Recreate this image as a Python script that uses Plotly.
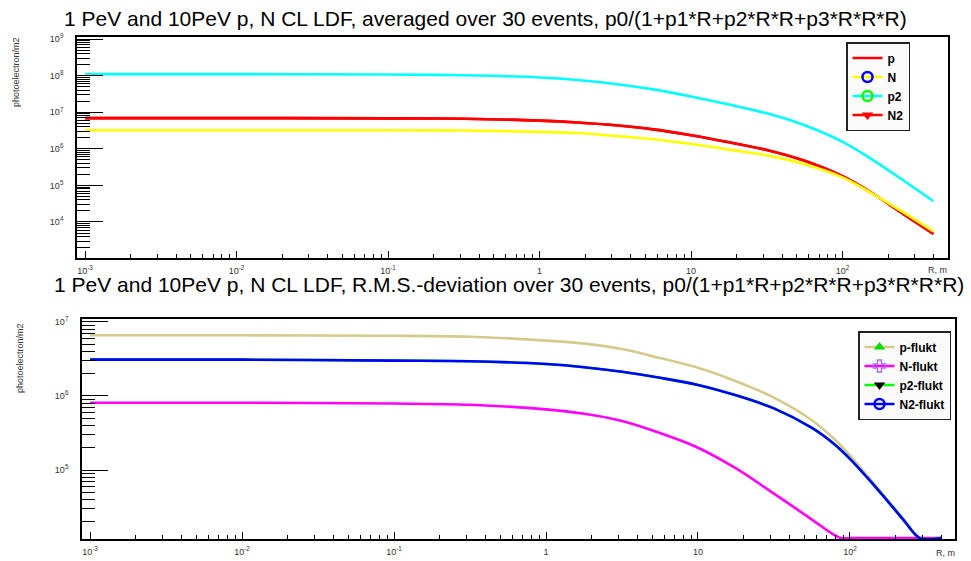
import numpy as np
import plotly.graph_objects as go

# ---------------- data ----------------
# Upper panel: mean lateral distribution, photoelectron/m2 vs R (m)
R_MEAN = [0.001, 0.01, 0.1, 0.316, 1, 1.78, 3.16, 5.62, 10, 17.8, 31.6, 56.2, 100, 158, 251, 398]
P_MEAN = [6.9e6, 6.9e6, 6.8e6, 6.6e6, 5.9e6, 5.25e6, 4.4e6, 3.4e6, 2.35e6, 1.51e6,
          9.3e5, 4.7e5, 1.78e5, 6.0e4, 1.66e4, 4.7e3]
N_MEAN = [3.2e6, 3.2e6, 3.2e6, 3.15e6, 2.9e6, 2.7e6, 2.25e6, 1.82e6, 1.35e6, 9.5e5,
          6.6e5, 3.8e5, 1.66e5, 5.9e4, 1.86e4, 5.5e3]
P2_MEAN = [1.10e8, 1.10e8, 1.07e8, 1.02e8, 8.9e7, 7.6e7, 5.9e7, 4.2e7, 2.7e7, 1.62e7,
           9.3e6, 4.4e6, 1.55e6, 5.0e5, 1.38e5, 3.7e4]
N2_MEAN = [6.9e6, 6.9e6, 6.8e6, 6.6e6, 5.9e6, 5.25e6, 4.4e6, 3.4e6, 2.35e6, 1.51e6,
           9.3e5, 4.7e5, 1.78e5, 6.0e4, 1.66e4, 4.7e3]

# Lower panel: r.m.s. deviation; non-positive fit values are drawn on the frame floor
R_RMS = [0.001, 0.01, 0.1, 0.316, 1, 1.78, 3.16, 5.62, 10, 17.8, 31.6, 56.2, 77.6, 87.1,
         100, 158, 224, 288, 398]
P_RMS = [6.6e6, 6.6e6, 6.5e6, 6.3e6, 5.6e6, 5.1e6, 4.3e6, 3.25e6, 2.4e6, 1.58e6,
         9.5e5, 4.7e5, 2.7e5, 2.14e5, 1.58e5, 5.2e4, 2.2e4, 1.2e4, 0]
N_RMS = [8.1e5, 8.1e5, 7.9e5, 7.6e5, 6.6e5, 5.75e5, 4.6e5, 3.16e5, 2.0e5, 1.05e5,
         4.8e4, 2.14e4, 1.35e4, 0, 0, 0, 0, 0, 0]
P2_RMS = [3.1e6, 3.1e6, 3.0e6, 2.95e6, 2.7e6, 2.45e6, 2.12e6, 1.76e6, 1.41e6, 1.02e6,
          6.8e5, 3.7e5, 2.3e5, 1.86e5, 1.41e5, 5.0e4, 2.14e4, 1.2e4, 0]
N2_RMS = [3.1e6, 3.1e6, 3.0e6, 2.95e6, 2.7e6, 2.45e6, 2.12e6, 1.76e6, 1.41e6, 1.02e6,
          6.8e5, 3.7e5, 2.3e5, 1.86e5, 1.41e5, 5.0e4, 2.14e4, 1.2e4, 0]

X_TICKS = [1e-3, 1e-2, 1e-1, 1, 10, 100]
X_TICK_TEXT = ["10<sup>-3</sup>", "10<sup>-2</sup>", "10<sup>-1</sup>", "1", "10", "10<sup>2</sup>"]
Y1_TICKS = [1e4, 1e5, 1e6, 1e7, 1e8, 1e9]
Y1_TICK_TEXT = ["10<sup>4</sup>", "10<sup>5</sup>", "10<sup>6</sup>", "10<sup>7</sup>", "10<sup>8</sup>", "10<sup>9</sup>"]
Y2_TICKS = [1e5, 1e6, 1e7]
Y2_TICK_TEXT = ["10<sup>5</sup>", "10<sup>6</sup>", "10<sup>7</sup>"]

TITLE_TOP = "1 PeV and 10PeV p, N CL LDF, averaged over 30 events, p0/(1+p1*R+p2*R*R+p3*R*R*R)"
TITLE_BOT = "1 PeV and 10PeV p, N CL LDF, R.M.S.-deviation over 30 events, p0/(1+p1*R+p2*R*R+p3*R*R*R)"

# ---------------- layout geometry ----------------
W, H = 971, 561
X1_RANGE = [-3.053, 2.696]
Y1_RANGE = [3.016, 9.055]
X2_RANGE = [-3.053, 2.691]
Y2_RANGE = [4.068, 7.04]

FONT = "Liberation Sans, Arial, Helvetica, sans-serif"


def minor_vals(lo, hi):
    vals = []
    for e in range(lo, hi + 1):
        for d in range(2, 10):
            vals.append(d * 10.0 ** e)
    return vals


fig = go.Figure()

# floor used to draw non-positive values along the bottom of the lower frame
floor2 = 10 ** (Y2_RANGE[0] + 0.012)

line_kw = dict(shape="spline", smoothing=1.0, width=2.6)

# upper panel curves (drawing order keeps yellow over red at the tail)
for r, v, c in [(R_MEAN, P_MEAN, "#ff0000"), (R_MEAN, N2_MEAN, "#ff0000"),
                (R_MEAN, N_MEAN, "#ffff00"), (R_MEAN, P2_MEAN, "#00ffff")]:
    fig.add_trace(go.Scatter(x=r, y=v, mode="lines", line=dict(color=c, **line_kw),
                             showlegend=False, hoverinfo="skip", xaxis="x", yaxis="y"))

# lower panel curves
for v, c in [(P_RMS, "#d4ca8c"), (N_RMS, "#ff00ff"), (P2_RMS, "#00ff00"), (N2_RMS, "#0000ff")]:
    yv = np.maximum(np.asarray(v, dtype=float), floor2)
    fig.add_trace(go.Scatter(x=R_RMS, y=yv, mode="lines",
                             line=dict(color=c, shape="spline", smoothing=0.9, width=2.6),
                             showlegend=False, hoverinfo="skip", xaxis="x2", yaxis="y2"))

# legend entries
leg_top = [
    ("p", "lines", "#ff0000", dict(size=1, color="#ff0000", opacity=0)),
    ("N", "lines+markers", "#ffff00", dict(symbol="circle-open", size=10, color="#0000ff", line=dict(width=2.5))),
    ("p2", "lines+markers", "#00ffff", dict(symbol="circle-open", size=10, color="#00ff00", line=dict(width=2.5))),
    ("N2", "lines+markers", "#ff0000", dict(symbol="triangle-down", size=10, color="#ff0000")),
]
for name, mode, lc, mk in leg_top:
    fig.add_trace(go.Scatter(x=[None], y=[None], mode=mode, name=name,
                             line=dict(color=lc, width=2.5), marker=mk,
                             xaxis="x", yaxis="y", legend="legend"))

leg_bot = [
    ("p-flukt", "#d4ca8c", dict(symbol="triangle-up", size=10, color="#00dd00")),
    ("N-flukt", "#ff00ff", dict(symbol="cross-open", size=10, color="#a070ff", line=dict(width=1.5))),
    ("p2-flukt", "#00ff00", dict(symbol="triangle-down", size=10, color="#000000")),
    ("N2-flukt", "#0000ff", dict(symbol="circle-open", size=10, color="#0000ff", line=dict(width=2.5))),
]
for name, lc, mk in leg_bot:
    fig.add_trace(go.Scatter(x=[None], y=[None], mode="lines+markers", name=name,
                             line=dict(color=lc, width=2.5), marker=mk,
                             xaxis="x2", yaxis="y2", legend="legend2"))

tickfont = dict(family=FONT, size=9, color="#333333")
common_x = dict(type="log", tickmode="array", tickvals=X_TICKS, ticktext=X_TICK_TEXT,
                ticks="inside", ticklen=7, tickwidth=1.2, tickcolor="black",
                minor=dict(tickmode="array", tickvals=minor_vals(-3, 2), ticks="inside",
                           ticklen=4, tickwidth=1, tickcolor="black"),
                showgrid=False, zeroline=False, showline=True, linecolor="black",
                linewidth=1.6, mirror=True, tickfont=tickfont, ticklabelstandoff=3,
                automargin=False)
common_y = dict(type="log", tickmode="array", ticks="inside", ticklen=26, tickwidth=1.2,
                tickcolor="black", showgrid=False, zeroline=False, showline=True,
                linecolor="black", linewidth=1.6, mirror=True, tickfont=tickfont,
                ticklabelstandoff=10, automargin=False)

legend_style = dict(xanchor="left", yanchor="top", bgcolor="#fafafa",
                    bordercolor="#222222", borderwidth=1.5,
                    font=dict(family=FONT, size=12, color="black", weight="bold"),
                    itemwidth=30, tracegroupgap=0)

fig.update_layout(
    width=W, height=H,
    margin=dict(l=0, r=0, t=0, b=0),
    paper_bgcolor="white", plot_bgcolor="white",
    xaxis=dict(domain=[77 / W, 948 / W], range=X1_RANGE, anchor="y", **common_x),
    yaxis=dict(domain=[1 - 258 / H, 1 - 37 / H], range=Y1_RANGE, anchor="x",
               tickvals=Y1_TICKS, ticktext=Y1_TICK_TEXT,
               minor=dict(tickmode="array", tickvals=minor_vals(3, 8), ticks="inside",
                          ticklen=13, tickwidth=1, tickcolor="black"),
               **common_y),
    xaxis2=dict(domain=[82 / W, 955 / W], range=X2_RANGE, anchor="y2", **common_x),
    yaxis2=dict(domain=[1 - 539 / H, 1 - 319 / H], range=Y2_RANGE, anchor="x2",
                tickvals=Y2_TICKS, ticktext=Y2_TICK_TEXT,
                minor=dict(tickmode="array", tickvals=minor_vals(4, 6), ticks="inside",
                           ticklen=13, tickwidth=1, tickcolor="black"),
                **common_y),
    legend=dict(x=846 / W, y=1 - 42 / H, **legend_style),
    legend2=dict(x=858 / W, y=1 - 331 / H, **legend_style),
    showlegend=True,
)

annotations = [
    dict(text=TITLE_TOP, x=62 / W, y=1 - 18 / H, xanchor="left", yanchor="middle",
         font=dict(family=FONT, size=21, color="black")),
    dict(text=TITLE_BOT, x=52 / W, y=1 - 284 / H, xanchor="left", yanchor="middle",
         font=dict(family=FONT, size=21, color="black")),
    dict(text="photoelectron/m2", x=16 / W, y=1 - 72 / H, textangle=-90,
         xanchor="center", yanchor="middle", font=dict(family=FONT, size=9, color="#333333")),
    dict(text="photoelectron/m2", x=20 / W, y=1 - 358 / H, textangle=-90,
         xanchor="center", yanchor="middle", font=dict(family=FONT, size=9, color="#333333")),
    dict(text="R, m", x=937 / W, y=1 - 270 / H, xanchor="center", yanchor="middle",
         font=dict(family=FONT, size=9, color="#333333")),
    dict(text="R, m", x=945 / W, y=1 - 553 / H, xanchor="center", yanchor="middle",
         font=dict(family=FONT, size=9, color="#333333")),
]
for a in annotations:
    a.update(xref="paper", yref="paper", showarrow=False)
fig.update_layout(annotations=annotations)

fig.write_html("out.html")
